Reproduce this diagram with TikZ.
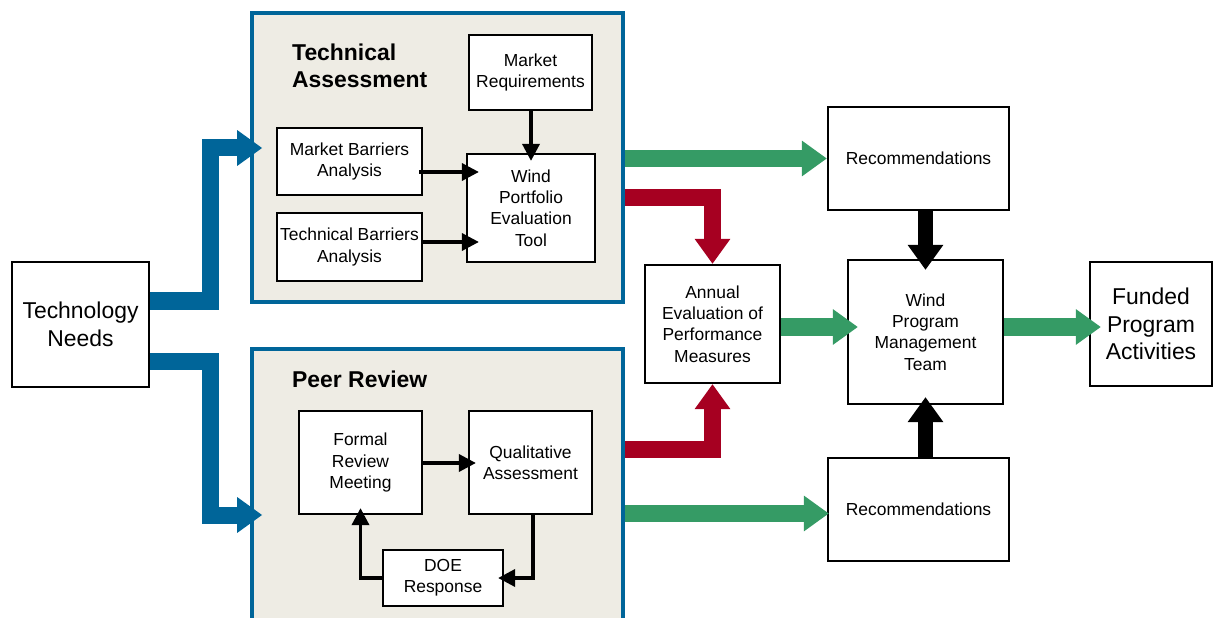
\documentclass[tikz,border=0pt]{standalone}
\usepackage{fontspec}
\setmainfont{Liberation Sans}
\usetikzlibrary{arrows.meta,calc}
\definecolor{cblue}{RGB}{0,101,153}
\definecolor{cgreen}{RGB}{53,155,101}
\definecolor{cred}{RGB}{166,0,33}
\definecolor{cfill}{RGB}{238,236,228}
\tikzset{
  box/.style={draw=black, line width=2.2bp, fill=white, inner sep=0pt, align=center,
    font=\fontsize{17.5}{21.3}\selectfont},
  bigbox/.style={box, font=\fontsize{23}{27.5}\selectfont},
  container/.style={draw=cblue, line width=3.5bp, fill=cfill, inner sep=0pt},
  grouptitle/.style={inner sep=0pt, align=left, anchor=west, font=\fontsize{23}{27}\selectfont\bfseries},
  thinarrow/.style={draw=black, line width=3.5bp, -{Triangle[length=17bp,width=17bp]}},
  fatarrow/.style={line width=17bp, -{Triangle[length=25bp,width=34bp]}},
  bluearrow/.style={fatarrow, draw=cblue},
  greenarrow/.style={fatarrow, draw=cgreen},
  redarrow/.style={fatarrow, draw=cred},
  blackarrow/.style={line width=15bp, draw=black, -{Triangle[length=25bp,width=34bp]}},
}
\begin{document}
\begin{tikzpicture}[x=1bp, y=-1bp]
\useasboundingbox (0,0) rectangle (1215,618);
\clip (0,0) rectangle (1215,618);

% containers
\node[container, minimum width=371bp, minimum height=289bp] (ta) at (437.5,157.5) {};
\node[container, minimum width=371bp, minimum height=311bp] (pr) at (437.5,504.5) {};
\node[grouptitle] (tatitle) at (292,66) {Technical\\Assessment};
\node[grouptitle] (prtitle) at (292,379) {Peer Review};

% boxes
\node[bigbox, minimum width=137bp, minimum height=125bp] (tn) at (80.5,324.5) {Technology\\Needs};
\node[box, minimum width=123bp, minimum height=75bp] (mr) at (530.5,72.5) {Market\\Requirements};
\node[box, minimum width=145bp, minimum height=67bp] (mba) at (349.5,161.5) {Market Barriers\\Analysis};
\node[box, minimum width=145bp, minimum height=68bp] (tba) at (349.5,247) {Technical Barriers\\Analysis};
\node[box, minimum width=128bp, minimum height=108bp] (wpet) at (531,208) {Wind\\Portfolio\\Evaluation\\Tool};
\node[box, minimum width=123bp, minimum height=103bp] (frm) at (360.5,462.5) {Formal\\Review\\Meeting};
\node[box, minimum width=123bp, minimum height=103bp] (qa) at (530.5,462.5) {Qualitative\\Assessment};
\node[box, minimum width=120bp, minimum height=56bp] (doe) at (443,578) {DOE\\Response};
\node[box, minimum width=181bp, minimum height=103bp] (rec1) at (918.5,158.5) {Recommendations};
\node[box, minimum width=135bp, minimum height=118bp] (ae) at (712.5,324) {Annual\\Evaluation of\\Performance\\Measures};
\node[box, minimum width=155bp, minimum height=144bp] (wpmt) at (925.5,332) {Wind\\Program\\Management\\Team};
\node[box, minimum width=181bp, minimum height=103bp] (rec2) at (918.5,509.5) {Recommendations};
\node[bigbox, minimum width=122bp, minimum height=124bp] (fpa) at (1151,324) {Funded\\Program\\Activities};

% thin arrows
\draw[thinarrow] (wpet.north |- mr.south) -- ($(wpet.north)+(0,8)$);
\draw[thinarrow] ($(mba.east |- 0,172)+(-4,0)$) -- ($(wpet.west |- 0,172)+(13,0)$);
\draw[thinarrow] (tba.east |- 0,242) -- ($(wpet.west |- 0,242)+(13,0)$);
\draw[thinarrow] (frm.east |- 0,463) -- ($(qa.west |- 0,463)+(8,0)$);
\draw[thinarrow] ($(qa.south)+(2.5,0)$) |- ($(doe.east)+(-6,0)$);
\draw[thinarrow] (doe.west) -| ($(frm.south)+(0,-7)$);

% thick arrows
\draw[bluearrow] (tn.east |- 0,301) -- ++(60.5,0) |- ($(ta.west |- 0,148)+(12,0)$);
\draw[bluearrow] (tn.east |- 0,361) -- ++(60.5,0) |- ($(pr.west |- 0,515)+(12,0)$);
\draw[greenarrow] (ta.east |- rec1.west) -- (rec1.west);
\draw[redarrow] (ta.east |- 0,197.5) -| (ae.north);
\draw[redarrow] (pr.east |- 0,449) -| (ae.south);
\draw[greenarrow] (ae.east |- 0,327) -- ($(wpmt.west |- 0,327)+(11,0)$);
\draw[greenarrow] (pr.east |- 0,513.5) -- ($(rec2.west |- 0,513.5)+(2,0)$);
\draw[greenarrow] (wpmt.east |- 0,327) -- ($(fpa.west |- 0,327)+(12,0)$);
\draw[blackarrow] (rec1.south -| wpmt.north) -- ($(wpmt.north)+(0,11)$);
\draw[blackarrow] (rec2.north -| wpmt.south) -- ($(wpmt.south)+(0,-8)$);
\end{tikzpicture}
\end{document}
